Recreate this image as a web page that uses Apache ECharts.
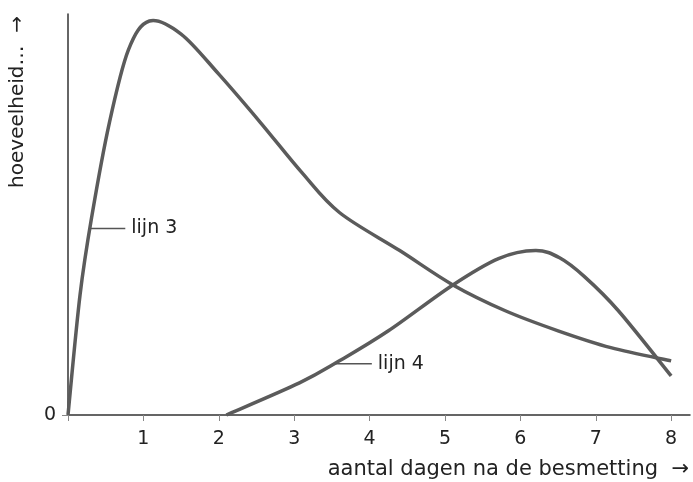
<!DOCTYPE html>
<html>
<head>
<meta charset="utf-8">
<script src="https://cdn.jsdelivr.net/npm/echarts@6/dist/echarts.min.js"></script>
<style>
  html, body { margin: 0; padding: 0; background: #fff; }
  #chart { width: 693px; height: 482px; }
</style>
</head>
<body>
<div id="chart"></div>
<script>
// dagen (x) en hoeveelheid (y)
const line3 = [
  [0, 0], [0.16, 30], [0.32, 50], [0.55, 73], [0.8, 91], [1.08, 98.25],
  [1.5, 95], [2.0, 85], [2.55, 73], [3.1, 60.5], [3.6, 50.5], [4.4, 41],
  [5.1, 32.5], [5.8, 26], [6.5, 21], [7.2, 16.8], [8, 13.5]
]
const line4 = [
  [2.1, 0], [3.07, 8], [3.6, 13.5], [4.25, 21], [5.09, 32.25], [5.71, 39],
  [6.2, 41], [6.52, 39.2], [6.85, 34.5], [7.3, 26], [8, 9.75]
]
// verwijslijntjes bij de namen
const leader3 = [[0.29, 46.5], [0.76, 46.5]]
const leader4 = [[3.55, 12.75], [4.03, 12.75]]
const xTicks = [0, 1, 2, 3, 4, 5, 6, 7, 8]
const xLabels = [1, 2, 3, 4, 5, 6, 7, 8]
const yLabels = [0]

const font = '"DejaVu Sans", sans-serif'
const textColor = '#222'
const curveColor = '#5b5b5b'

const chart = echarts.init(document.getElementById('chart'))

// vloeiende kromme (Catmull-Rom) door de punten, via de assen omgerekend
function curve(name, points) {
  return {
    name: name,
    type: 'custom',
    silent: true,
    data: points,
    encode: { x: 0, y: 1 },
    renderItem: function (params, api) {
      if (params.dataIndex !== 0) return
      const p = points.map(function (d) { return api.coord(d) })
      let path = 'M' + p[0][0] + ' ' + p[0][1]
      for (let i = 0; i < p.length - 1; i++) {
        const p0 = p[i - 1] || p[i]
        const p1 = p[i]
        const p2 = p[i + 1]
        const p3 = p[i + 2] || p2
        const c1x = p1[0] + (p2[0] - p0[0]) / 6
        const c1y = p1[1] + (p2[1] - p0[1]) / 6
        const c2x = p2[0] - (p3[0] - p1[0]) / 6
        const c2y = p2[1] - (p3[1] - p1[1]) / 6
        path += ' C' + c1x + ' ' + c1y + ' ' + c2x + ' ' + c2y + ' ' + p2[0] + ' ' + p2[1]
      }
      return {
        type: 'path',
        shape: { pathData: path },
        style: { fill: null, stroke: curveColor, lineWidth: 3.5, lineJoin: 'round' }
      }
    }
  }
}

function leader(text, points) {
  return {
    type: 'line',
    data: points,
    silent: true,
    symbol: 'none',
    lineStyle: { color: '#555', width: 1.5 },
    endLabel: {
      show: true,
      formatter: text,
      distance: 6,
      color: textColor,
      fontSize: 19,
      fontFamily: font
    }
  }
}

chart.setOption({
  animation: false,
  grid: { left: 68, right: 3, top: 14, bottom: 67 },
  xAxis: {
    type: 'value',
    min: 0,
    max: 8.25,
    interval: 1,
    splitLine: { show: false },
    axisLine: { show: true, lineStyle: { color: '#333', width: 1.5 } },
    axisTick: { show: true, customValues: xTicks, length: 6, lineStyle: { color: '#888' } },
    axisLabel: {
      customValues: xLabels,
      color: textColor,
      fontSize: 19,
      fontFamily: font,
      margin: 15
    }
  },
  yAxis: {
    type: 'value',
    min: 0,
    max: 100,
    splitLine: { show: false },
    axisLine: { show: true, lineStyle: { color: '#333', width: 1.5 } },
    axisTick: { show: true, customValues: yLabels, length: 6, lineStyle: { color: '#888' } },
    axisLabel: {
      customValues: yLabels,
      color: textColor,
      fontSize: 19,
      fontFamily: font,
      margin: 12
    }
  },
  graphic: [
    {
      type: 'text',
      left: 8,
      top: 16,
      rotation: Math.PI / 2,
      style: { text: 'hoeveelheid…  →', fill: textColor, font: '20px ' + font }
    },
    {
      type: 'text',
      right: 4,
      top: 459,
      style: { text: 'aantal dagen na de besmetting  →', fill: textColor, font: '21px ' + font }
    }
  ],
  series: [
    curve('lijn 3', line3),
    curve('lijn 4', line4),
    leader('lijn 3', leader3),
    leader('lijn 4', leader4)
  ]
})
</script>
</body>
</html>
